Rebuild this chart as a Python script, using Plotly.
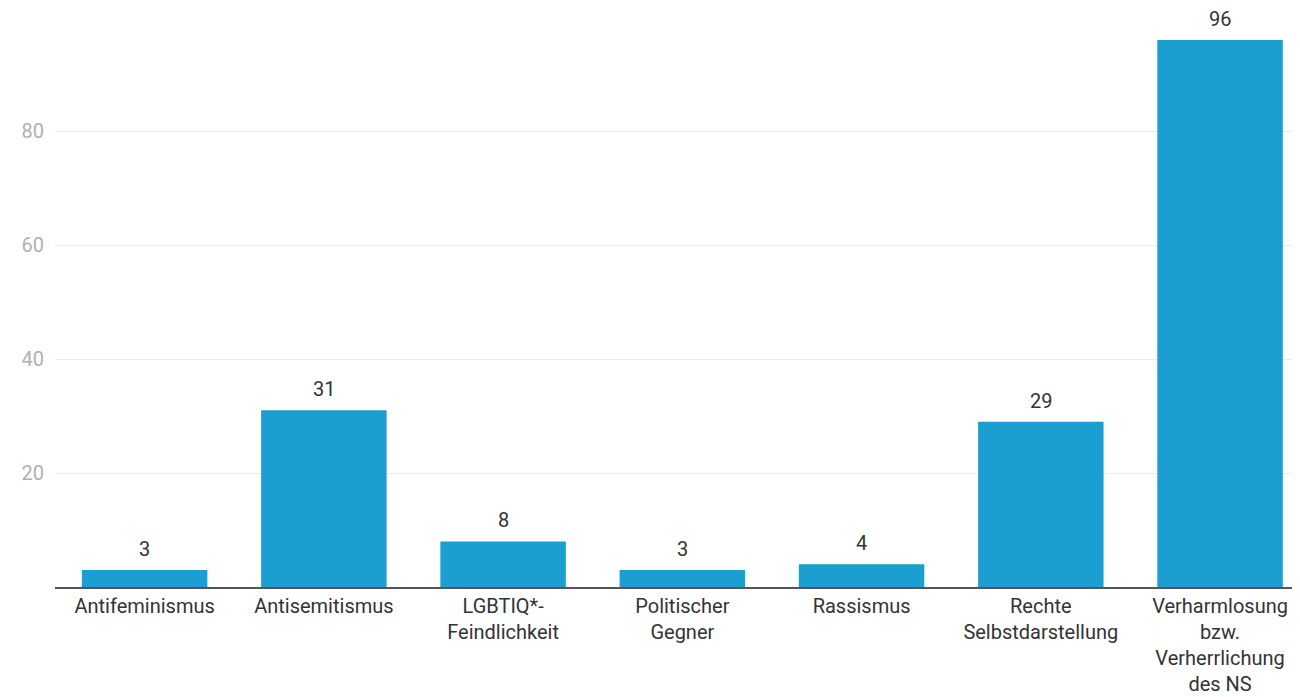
import plotly.graph_objects as go

categories = ["Antifeminismus", "Antisemitismus", "LGBTIQ*-<br>Feindlichkeit",
              "Politischer<br>Gegner", "Rassismus", "Rechte<br>Selbstdarstellung",
              "Verharmlosung<br>bzw.<br>Verherrlichung<br>des NS"]
values = [3, 31, 8, 3, 4, 29, 96]
y_ticks = [20, 40, 60, 80]

fig = go.Figure()
fig.add_trace(go.Bar(
    x=list(range(len(categories))), y=values,
    marker=dict(color="#1a9fd0", line=dict(width=0)),
    width=0.7,
    hoverinfo="skip",
))
for i, v in enumerate(values):
    fig.add_annotation(x=i, y=v, text=str(v), showarrow=False,
                       yanchor="bottom", yshift=7,
                       font=dict(family="Roboto", size=20, color="#333333"))

fig.update_layout(
    width=1292, height=689,
    margin=dict(l=47, r=0, t=0, b=110),
    plot_bgcolor="white", paper_bgcolor="white",
    showlegend=False,
    font=dict(family="Roboto", size=20, color="#333333"),
    xaxis=dict(
        tickmode="array", tickvals=list(range(len(categories))), ticktext=categories,
        range=[-0.5, 6.446], showgrid=False, zeroline=False,
        showline=True, linecolor="#555555", linewidth=1.5,
        ticks="", tickfont=dict(family="Roboto", size=20, color="#333333"),
        automargin=False,
    ),
    yaxis=dict(
        range=[0, 101.6], tickvals=y_ticks, showgrid=True, gridcolor="#ececec",
        gridwidth=1, zeroline=False, showline=False, ticks="",
        ticklabelstandoff=10, automargin=False,
        tickfont=dict(family="Roboto", size=20, color="#b0b0b0"),
    ),
)
fig.write_html("out.html")
